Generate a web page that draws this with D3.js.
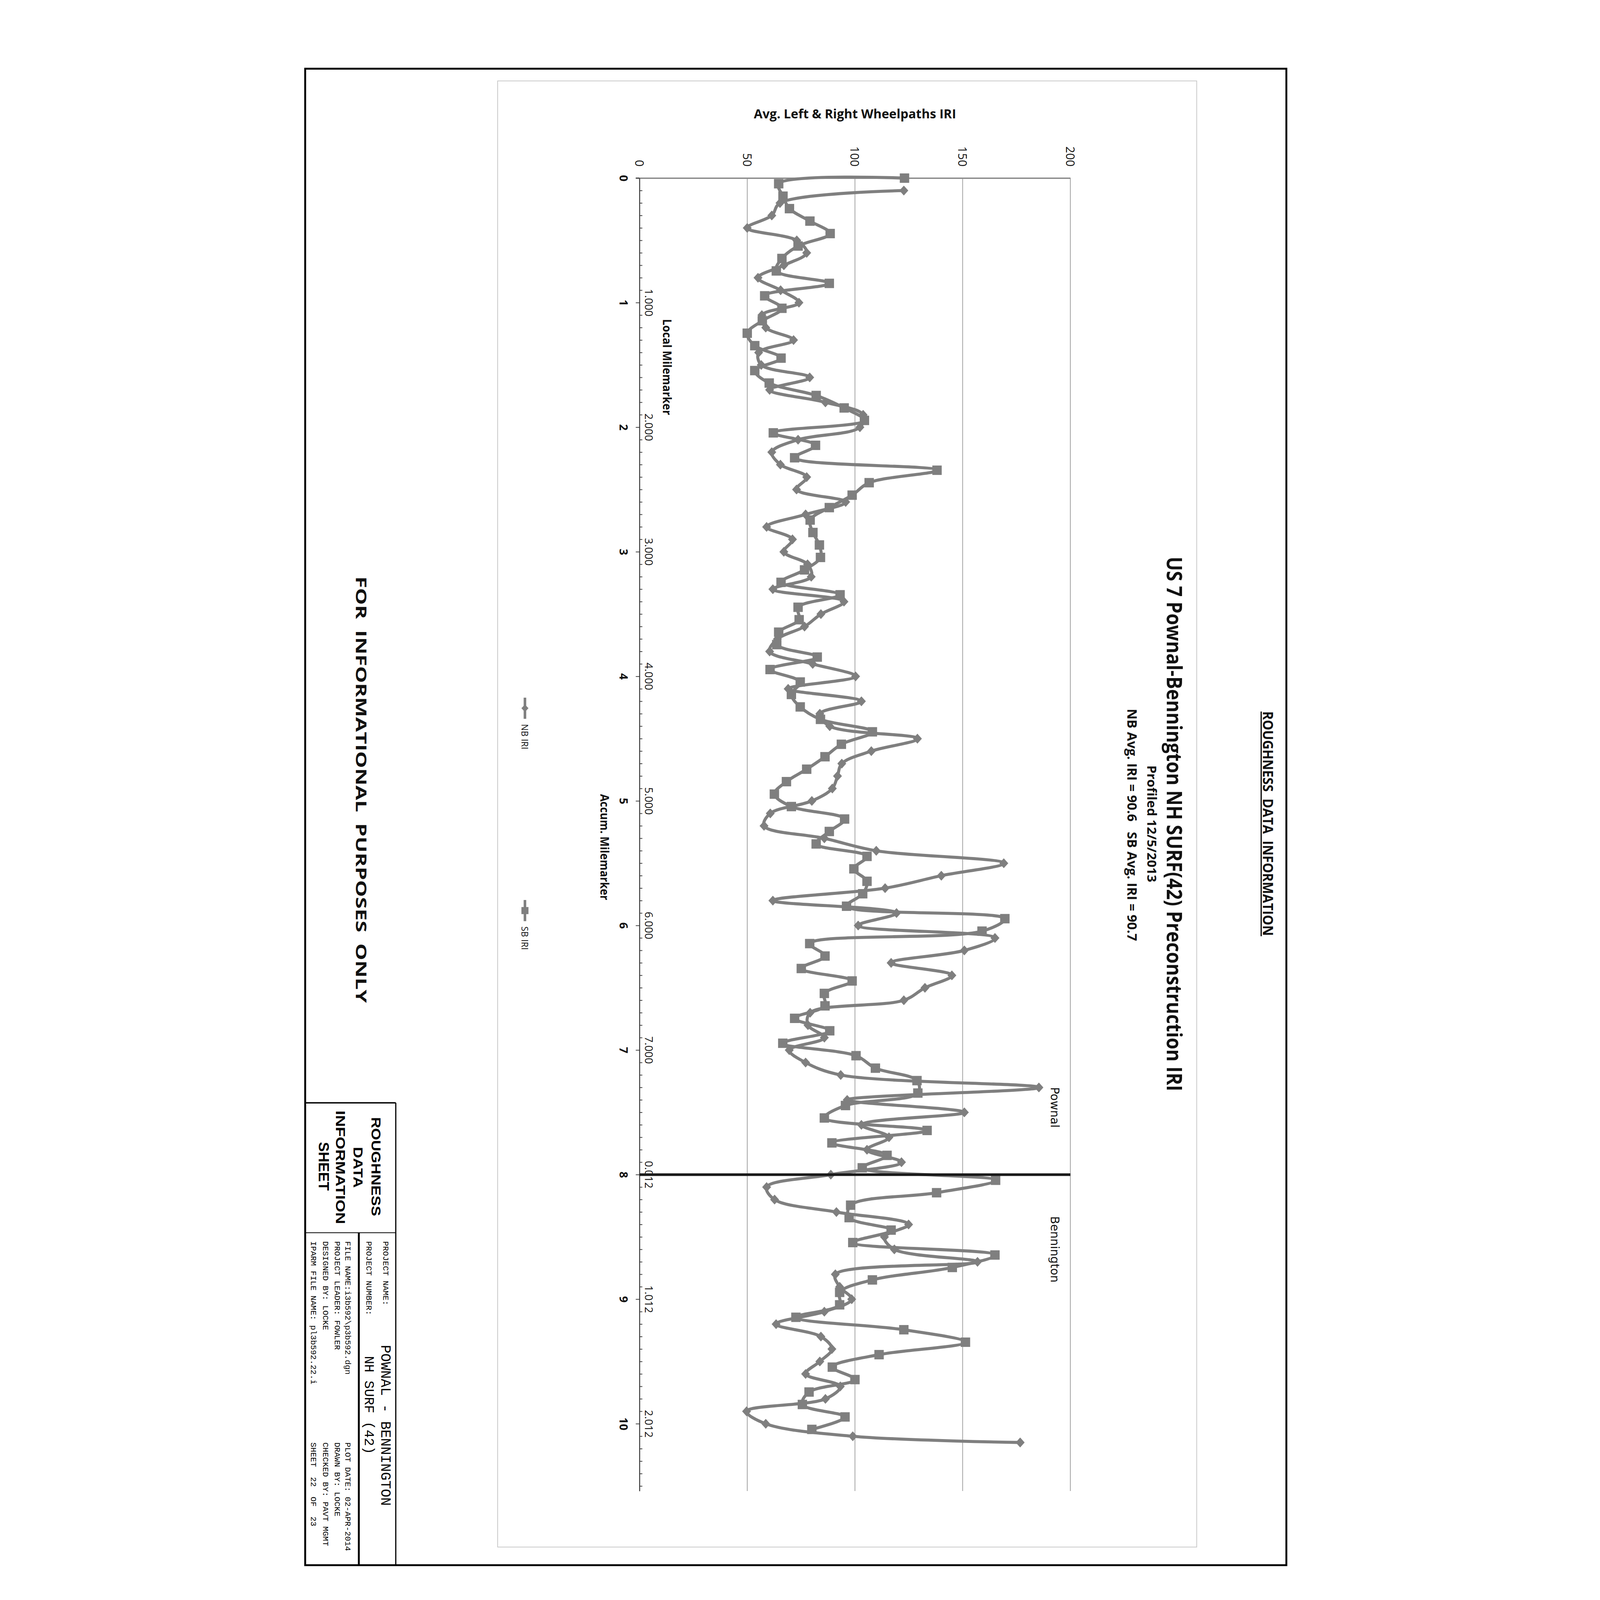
<!DOCTYPE html>
<html>
<head>
<meta charset="utf-8">
<script src="https://cdn.jsdelivr.net/npm/d3@7"></script>
<style>
  html, body { margin: 0; padding: 0; background: #fff; overflow: hidden; }
  svg { display: block; }
  text { white-space: pre; }
</style>
</head>
<body>
<svg id="page"></svg>
<script>
// ---- data ----
const mileTicks = [0, 1, 2, 3, 4, 5, 6, 7, 8, 9, 10];
const localLabels = ["", "1.000", "2.000", "3.000", "4.000", "5.000", "6.000", "7.000", "0.012", "1.012", "2.012"];
const iriTicks = [0, 50, 100, 150, 200];
const iriGrid = [50, 100, 150, 200];

const nbMiles = [0.1, 0.2, 0.3, 0.4, 0.5, 0.6, 0.7, 0.8, 0.9, 1.0,
  1.1, 1.2, 1.3, 1.4, 1.5, 1.6, 1.7, 1.8, 1.9, 2.0,
  2.1, 2.2, 2.3, 2.4, 2.5, 2.6, 2.7, 2.8, 2.9, 3.0,
  3.1, 3.2, 3.3, 3.4, 3.5, 3.6, 3.7, 3.8, 3.9, 4.0,
  4.1, 4.2, 4.3, 4.4, 4.5, 4.6, 4.7, 4.8, 4.9, 5.0,
  5.1, 5.2, 5.3, 5.4, 5.5, 5.6, 5.7, 5.8, 5.9, 6.0,
  6.1, 6.2, 6.3, 6.4, 6.5, 6.6, 6.7, 6.8, 6.9, 7.0,
  7.1, 7.2, 7.3, 7.4, 7.5, 7.6, 7.7, 7.8, 7.9, 8.0,
  8.1, 8.2, 8.3, 8.4, 8.5, 8.6, 8.7, 8.8, 8.9, 9.0,
  9.1, 9.2, 9.3, 9.4, 9.5, 9.6, 9.7, 9.8, 9.9, 10.0,
  10.1, 10.15];
const nbIRI = [122.7, 65.2, 61.4, 50, 73, 77.6, 67, 55, 65.5, 74,
  56.8, 58.6, 71.5, 55.3, 56.5, 79, 60.4, 86.3, 103.8, 102.3,
  73.6, 61.4, 65.4, 77.6, 72.9, 95.7, 77.1, 59, 71, 67,
  78, 79.7, 61.9, 94.9, 84.2, 76.6, 64, 60.4, 80.4, 100.3,
  69, 103, 83.7, 88.3, 129, 107.6, 93.9, 91.9, 89.5, 80,
  60.7, 57.8, 85.8, 109.9, 169.1, 140.1, 114, 61.9, 119.3, 101.5,
  165, 150.8, 116.8, 145, 132.5, 122.7, 79.2, 78.2, 85.8, 69.5,
  77.1, 93.4, 185.4, 96.4, 150.8, 103, 115.8, 105.6, 121.6, 88.8,
  59, 62.7, 91.4, 124.9, 113.7, 118.3, 156.9, 90.9, 92.9, 98.5,
  85.8, 63.4, 84.2, 89.3, 83.7, 77.1, 93.2, 86.3, 49.7, 58.6,
  99, 176.7];

const sbMiles = [0, 0.045, 0.145, 0.245, 0.345, 0.445, 0.545, 0.645, 0.745, 0.845,
  0.945, 1.045, 1.145, 1.245, 1.345, 1.445, 1.545, 1.645, 1.745, 1.845,
  1.945, 2.045, 2.145, 2.245, 2.345, 2.445, 2.545, 2.645, 2.745, 2.845,
  2.945, 3.045, 3.145, 3.245, 3.345, 3.445, 3.545, 3.645, 3.745, 3.845,
  3.945, 4.045, 4.145, 4.245, 4.345, 4.445, 4.545, 4.645, 4.745, 4.845,
  4.945, 5.045, 5.145, 5.245, 5.345, 5.445, 5.545, 5.645, 5.745, 5.845,
  5.945, 6.045, 6.145, 6.245, 6.345, 6.445, 6.545, 6.645, 6.745, 6.845,
  6.945, 7.045, 7.145, 7.245, 7.345, 7.445, 7.545, 7.645, 7.745, 7.845,
  7.945, 8.045, 8.145, 8.245, 8.345, 8.445, 8.545, 8.645, 8.745, 8.845,
  8.945, 9.045, 9.145, 9.245, 9.345, 9.445, 9.545, 9.645, 9.745, 9.845,
  9.945, 10.045];
const sbIRI = [123, 64.6, 66.6, 69.6, 79.1, 88.5, 73.6, 66.1, 63.5, 88.1,
  58.1, 66.1, 57, 50, 53.5, 65.7, 53.5, 60.2, 82, 95,
  104.4, 62.1, 81.7, 72, 138.1, 106.6, 98.7, 88.1, 79.2, 80.5,
  83.5, 84, 76.6, 65.7, 93.1, 73.6, 74.1, 64.6, 63.7, 82.5,
  60.6, 74.6, 70.5, 74.6, 84, 108.1, 93.7, 86.1, 77.6, 68.2,
  62.6, 70.5, 95.2, 88.1, 82, 105.6, 99.5, 105.6, 103.6, 96.1,
  169.6, 159, 79, 86.1, 75.1, 98.7, 85.8, 86.1, 72, 88.3,
  66.5, 100.5, 109.5, 128.8, 129.2, 95.6, 85.8, 133.5, 89.3, 114.9,
  103.4, 165.3, 137.9, 98, 97.3, 116.8, 99, 165, 145.2, 108.1,
  92.9, 92.9, 72.6, 122.7, 151.3, 111.2, 89.5, 100, 78.7, 75.6,
  95.4, 80];

const townBoundary = 8;   // Pownal / Bennington line

// ---- page ----
const W = 4400, H = 6800;
const SANS = "'Liberation Sans Narrow', 'Open Sans', sans-serif";
const MONO = "'Liberation Mono', 'DejaVu Sans Mono', monospace";
const GREY = "#7f7f7f";

// fit the whole sheet into whatever the window is
const svg = d3.select("#page")
  .attr("viewBox", `0 0 ${W} ${H}`)
  .attr("preserveAspectRatio", "xMidYMin meet")
  .attr("width", window.innerWidth || W)
  .attr("height", window.innerHeight || H);
svg.append("rect").attr("width", W).attr("height", H).attr("fill", "#fff");

// text turned a quarter clockwise, like the sheet
function vtext(g, bx, cy, str, o) {
  const t = g.append("text")
    .attr("transform", `translate(${bx},${cy}) rotate(90)`)
    .attr("text-anchor", o.anchor || "middle")
    .attr("font-family", o.family || SANS)
    .attr("font-size", o.size)
    .attr("font-weight", o.weight || "normal")
    .attr("fill", o.fill || "#111")
    .text(str);
  if (o.len) t.attr("textLength", o.len).attr("lengthAdjust", "spacingAndGlyphs");
  if (o.base) t.attr("dominant-baseline", o.base);
  return t;
}

// sheet frame
svg.append("rect").attr("x", 97).attr("y", 292).attr("width", 4170).attr("height", 6360)
  .attr("fill", "none").attr("stroke", "#000").attr("stroke-width", 8);

// chart area
svg.append("rect").attr("x", 915).attr("y", 344).attr("width", 2971).attr("height", 6231)
  .attr("fill", "none").attr("stroke", "#c4c4c4").attr("stroke-width", 3);

// ---- scales ----
const x = d3.scaleLinear().domain([0, 200]).range([1518, 3349]);
const y = d3.scaleLinear().domain([0, 10.54]).range([757, 6337]);

// grid
svg.append("g").selectAll("line").data(iriGrid).join("line")
  .attr("x1", d => x(d)).attr("x2", d => x(d))
  .attr("y1", y(0)).attr("y2", y.range()[1])
  .attr("stroke", "#9a9a9a").attr("stroke-width", 3);

// value axis (IRI) along the top
const iriAxis = svg.append("g").attr("transform", `translate(0,${y(0)})`)
  .call(d3.axisTop(x).tickValues(iriTicks).tickSize(0).tickSizeOuter(0));
iriAxis.select(".domain").attr("stroke", "#8a8a8a").attr("stroke-width", 6);
iriAxis.selectAll(".tick text")
  .attr("x", null).attr("y", null).attr("dy", null)
  .attr("transform", "translate(0,-49) rotate(90)")
  .attr("text-anchor", "end").attr("dominant-baseline", "central")
  .attr("font-family", SANS).attr("font-size", 50).attr("fill", "#111");
svg.append("line").attr("x1", 1502).attr("x2", x(0)).attr("y1", y(0)).attr("y2", y(0))
  .attr("stroke", "#8a8a8a").attr("stroke-width", 6);

// category axis (miles) down the left
const mileAxis = svg.append("g").attr("transform", `translate(${x(0)},0)`)
  .call(d3.axisLeft(y).tickValues(mileTicks).tickSize(16).tickSizeOuter(0).tickFormat(d3.format("d")));
mileAxis.select(".domain").attr("stroke", "#333").attr("stroke-width", 4);
mileAxis.selectAll(".tick line").attr("stroke", "#333").attr("stroke-width", 3);
mileAxis.selectAll(".tick text")
  .attr("x", null).attr("dy", null)
  .attr("transform", "translate(-66,0) rotate(90)")
  .attr("text-anchor", "middle").attr("dominant-baseline", "central")
  .attr("font-family", SANS).attr("font-size", 48).attr("font-weight", "bold").attr("fill", "#111");

const minor = d3.range(1, 106).filter(i => i % 10 !== 0).map(i => i / 10);
svg.append("g").attr("transform", `translate(${x(0)},0)`)
  .call(d3.axisRight(y).tickValues(minor).tickSize(12).tickFormat(""))
  .call(g => g.select(".domain").remove())
  .call(g => g.selectAll(".tick text").remove())
  .selectAll(".tick line").attr("stroke", "#333").attr("stroke-width", 3);

// local milemarker labels
svg.append("g").selectAll("text").data(mileTicks.filter((d, i) => localLabels[i] !== "")).join("text")
  .attr("transform", d => `translate(1560,${y(d)}) rotate(90)`)
  .attr("text-anchor", "middle").attr("dominant-baseline", "central")
  .attr("font-family", SANS).attr("font-size", 46).attr("fill", "#111")
  .text(d => localLabels[mileTicks.indexOf(d)]);

// ---- series ----
const nb = nbMiles.map((m, i) => ({ mile: m, iri: nbIRI[i] }));
const sb = sbMiles.map((m, i) => ({ mile: m, iri: sbIRI[i] }));
const line = d3.line().x(d => x(d.iri)).y(d => y(d.mile)).curve(d3.curveCatmullRom);
const diamond = "M0,-21L19,0L0,21L-19,0Z";

const plot = svg.append("g");
plot.append("path").datum(nb).attr("d", line)
  .attr("fill", "none").attr("stroke", GREY).attr("stroke-width", 13).attr("stroke-linejoin", "round");
plot.append("path").datum(sb).attr("d", line)
  .attr("fill", "none").attr("stroke", GREY).attr("stroke-width", 13).attr("stroke-linejoin", "round");
plot.append("g").selectAll("path").data(nb).join("path")
  .attr("transform", d => `translate(${x(d.iri)},${y(d.mile)})`)
  .attr("d", diamond).attr("fill", GREY);
plot.append("g").selectAll("rect").data(sb).join("rect")
  .attr("x", d => x(d.iri) - 20).attr("y", d => y(d.mile) - 20)
  .attr("width", 40).attr("height", 40).attr("fill", GREY);

// town boundary
svg.append("line")
  .attr("x1", x(0)).attr("x2", x(200))
  .attr("y1", y(townBoundary)).attr("y2", y(townBoundary))
  .attr("stroke", "#1a1a1a").attr("stroke-width", 11);
vtext(svg, 3265, y(7.46), "Pownal", { size: 49, family: "'DejaVu Sans', sans-serif" });
vtext(svg, 3265, y(8.6), "Bennington", { size: 49, family: "'DejaVu Sans', sans-serif" });

// ---- chart text ----
svg.append("text").attr("x", x(100)).attr("y", 503)
  .attr("text-anchor", "middle").attr("font-family", SANS).attr("font-size", 54)
  .attr("font-weight", "bold").attr("fill", "#111")
  .attr("textLength", 860).attr("lengthAdjust", "spacingAndGlyphs")
  .text("Avg. Left & Right Wheelpaths IRI");

vtext(svg, 3759, 3502, "US 7 Pownal-Bennington NH SURF(42) Preconstruction IRI", { size: 88, weight: "bold", len: 2272 });
vtext(svg, 3676, 3501, "Profiled 12/5/2013", { size: 54, weight: "bold", len: 497 });
vtext(svg, 3592, 3506, "NB Avg. IRI = 90.6   SB Avg. IRI = 90.7", { size: 56, weight: "bold", len: 987 });

vtext(svg, 1617, 1560, "Local Milemarker", { size: 50, weight: "bold", len: 408 });
vtext(svg, 1351, 3600, "Accum. Milemarker", { size: 50, weight: "bold", len: 451 });

// legend
const legend = [
  { name: "NB IRI", y0: 2965, y1: 3055, text: 3077, mark: "diamond" },
  { name: "SB IRI", y0: 3825, y1: 3915, text: 3937, mark: "square" }
];
legend.forEach(l => {
  svg.append("line").attr("x1", 1031).attr("x2", 1031).attr("y1", l.y0).attr("y2", l.y1)
    .attr("stroke", GREY).attr("stroke-width", 11);
  const cy = (l.y0 + l.y1) / 2;
  if (l.mark === "diamond") {
    svg.append("path").attr("transform", `translate(1031,${cy})`).attr("d", "M0,-16L15,0L0,16L-15,0Z").attr("fill", GREY);
  } else {
    svg.append("rect").attr("x", 1016).attr("y", cy - 15).attr("width", 30).attr("height", 30).attr("fill", GREY);
  }
  vtext(svg, 1031, l.text, l.name, { size: 38, anchor: "start", base: "central" });
});

vtext(svg, 312, 3356, "FOR  INFORMATIONAL  PURPOSES  ONLY", { size: 62, weight: "bold", len: 1813 });

// sheet header
vtext(svg, 4167, 3500, "ROUGHNESS  DATA  INFORMATION", { size: 58, weight: "bold", len: 955 });
svg.append("line").attr("x1", 4160).attr("x2", 4160).attr("y1", 3024).attr("y2", 3979)
  .attr("stroke", "#000").attr("stroke-width", 5);

// ---- title block ----
const tb = svg.append("g");
const tbBottom = 6652;
tb.append("line").attr("x1", 97).attr("x2", 482).attr("y1", 4687).attr("y2", 4687).attr("stroke", "#000").attr("stroke-width", 6);
tb.append("line").attr("x1", 482).attr("x2", 482).attr("y1", 4687).attr("y2", tbBottom).attr("stroke", "#000").attr("stroke-width", 5);
tb.append("line").attr("x1", 97).attr("x2", 482).attr("y1", 5239).attr("y2", 5239).attr("stroke", "#000").attr("stroke-width", 3);
tb.append("line").attr("x1", 325).attr("x2", 325).attr("y1", 5239).attr("y2", tbBottom).attr("stroke", "#000").attr("stroke-width", 8);

vtext(tb, 378, 4958, "ROUGHNESS", { size: 56, weight: "bold", len: 421, family: "'Liberation Sans', Arial, sans-serif", fill: "#000" });
vtext(tb, 303, 4961, "DATA", { size: 56, weight: "bold", len: 174, family: "'Liberation Sans', Arial, sans-serif", fill: "#000" });
vtext(tb, 228, 4961, "INFORMATION", { size: 56, weight: "bold", len: 482, family: "'Liberation Sans', Arial, sans-serif", fill: "#000" });
vtext(tb, 155, 4957, "SHEET", { size: 60, weight: "bold", len: 207, family: "'Liberation Sans', Arial, sans-serif", fill: "#000" });

const mono = (bx, y0, str, size) => vtext(tb, bx, y0, str, { size: size || 35, anchor: "start", family: MONO, fill: "#000" });
mono(428, 5275, "PROJECT NAME:");
mono(420, 5716, "POWNAL - BENNINGTON", 60);
mono(358, 5275, "PROJECT NUMBER:");
mono(350, 5763, "NH SURF (42)", 58);
mono(268, 5275, "FILE NAME:i3b592\\p3b592.dgn");
mono(268, 6130, "PLOT DATE: 02-APR-2014");
mono(223, 5275, "PROJECT LEADER: FOWLER");
mono(223, 6130, "DRAWN BY: LOCKE");
mono(173, 5275, "DESIGNED BY: LOCKE");
mono(173, 6130, "CHECKED BY: PAVT MGMT");
mono(122, 5275, "IPARM FILE NAME: pl3b592.22.i");
mono(122, 6130, "SHEET  22  OF  23");
</script>
</body>
</html>
